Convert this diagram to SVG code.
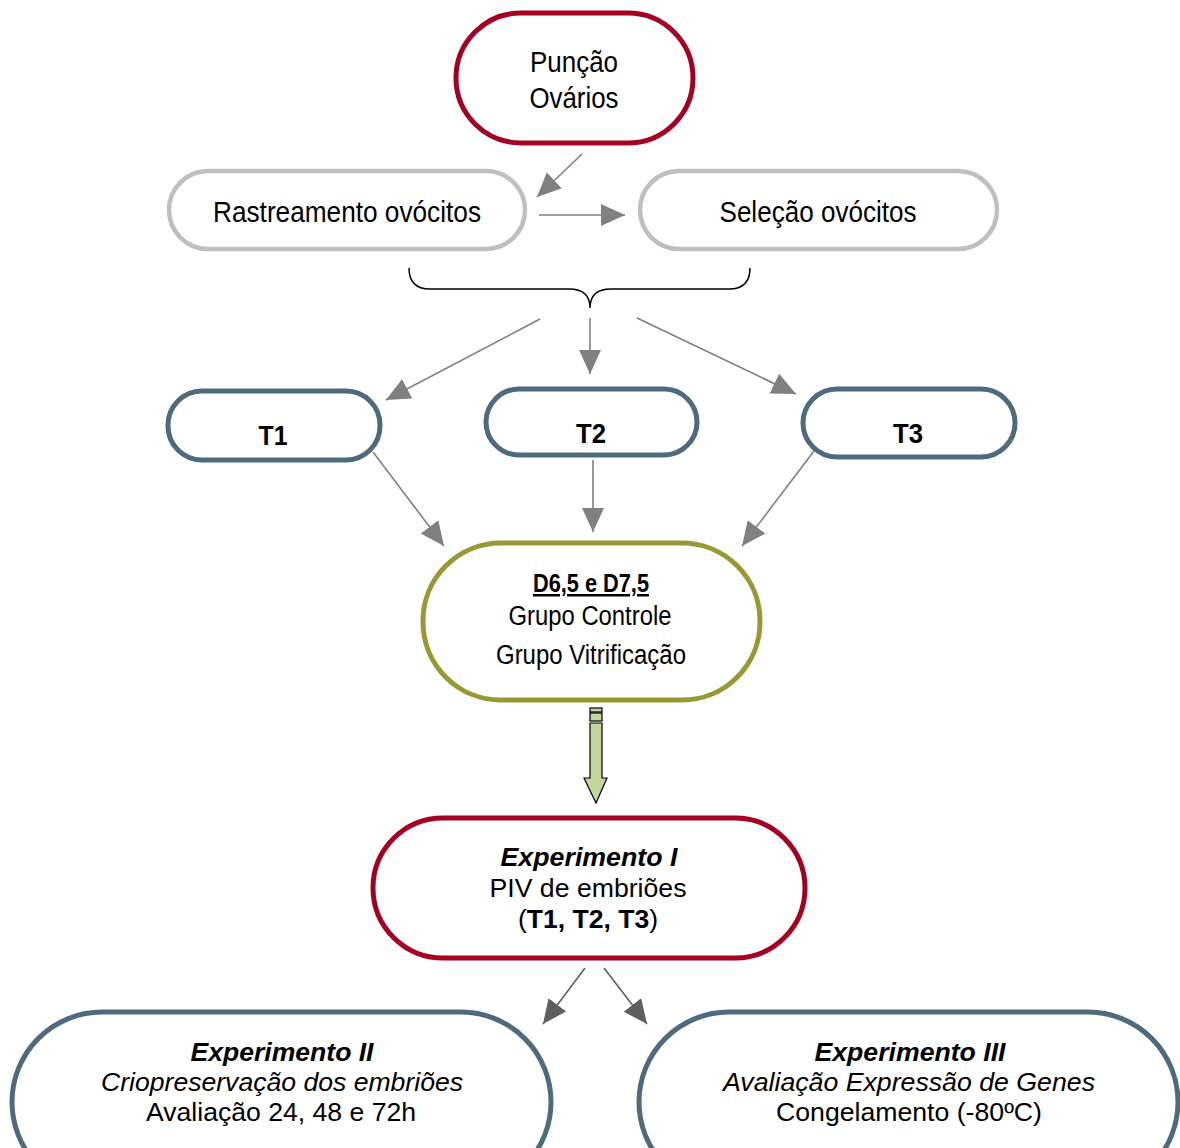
<svg xmlns="http://www.w3.org/2000/svg" width="1180" height="1148" viewBox="0 0 1180 1148">
<style>
.box{fill:#fff;stroke-width:5}
.red{stroke:#A50021}
.grey{stroke:#BFBFBF;stroke-width:4.5}
.blue{stroke:#4E6B7E}
.olive{stroke:#999933}
.t{font-family:"Liberation Sans",Arial,sans-serif;fill:#000;text-anchor:middle}
.c{font-size:29px}
.b{font-weight:bold}
.i{font-style:italic}
.m{font-size:25px}
.ln{stroke:#808080;stroke-width:1.6;fill:none}
.ln2{stroke:#5F5F5F;stroke-width:1.6;fill:none}
</style>
<defs>
<marker id="ah" markerUnits="userSpaceOnUse" markerWidth="26" markerHeight="24" refX="24" refY="11" orient="auto"><path d="M0,0 L24,11 L0,22 z" fill="#808080"/></marker>
<marker id="ah2" markerUnits="userSpaceOnUse" markerWidth="26" markerHeight="24" refX="24" refY="11" orient="auto"><path d="M0,0 L24,11 L0,22 z" fill="#5F5F5F"/></marker>
</defs>
<rect width="1180" height="1148" fill="#fff"/>
<g id="connectors">
<line class="ln" x1="582" y1="154" x2="537" y2="197" marker-end="url(#ah)"/>
<line class="ln" x1="539" y1="215" x2="625" y2="215" marker-end="url(#ah)"/>
<path d="M409,268 Q409,289 430,289 L569,289 Q590,289 590,308 Q590,289 611,289 L729,289 Q750,289 750,268" fill="none" stroke="#000" stroke-width="1.5"/>
<line class="ln" x1="540" y1="319" x2="386" y2="400" marker-end="url(#ah)"/>
<line class="ln" x1="590" y1="318" x2="590" y2="374" marker-end="url(#ah)"/>
<line class="ln" x1="637" y1="318" x2="796" y2="394" marker-end="url(#ah)"/>
<line class="ln" x1="373" y1="452" x2="444" y2="546" marker-end="url(#ah)"/>
<line class="ln" x1="593" y1="460" x2="593" y2="532" marker-end="url(#ah)"/>
<line class="ln" x1="814" y1="451" x2="742" y2="546" marker-end="url(#ah)"/>
<g fill="#C3D69B" stroke="#000" stroke-width="1.2">
<rect x="590" y="708" width="12" height="4"/>
<rect x="590" y="713" width="12" height="8"/>
<polygon points="590,723 602,723 602,778 607,778 596,803 584,778 590,778"/>
</g>
<line class="ln2" x1="585" y1="968" x2="543" y2="1024" marker-end="url(#ah2)"/>
<line class="ln2" x1="604" y1="968" x2="647" y2="1024" marker-end="url(#ah2)"/>
</g>
<g id="puncao">
<rect class="box red" x="456" y="13" width="237" height="130" rx="65"/>
<text class="t c" x="574" y="72" textLength="88" lengthAdjust="spacingAndGlyphs">Punção</text>
<text class="t c" x="574" y="108" textLength="89" lengthAdjust="spacingAndGlyphs">Ovários</text>
</g>
<g id="rastreamento">
<rect class="box grey" x="169" y="171" width="356" height="78" rx="39"/>
<text class="t c" x="347" y="222" textLength="268" lengthAdjust="spacingAndGlyphs">Rastreamento ovócitos</text>
</g>
<g id="selecao">
<rect class="box grey" x="640" y="171" width="357" height="78" rx="39"/>
<text class="t c" x="818" y="222" textLength="197" lengthAdjust="spacingAndGlyphs">Seleção ovócitos</text>
</g>
<g id="t1">
<rect class="box blue" x="168" y="391" width="212" height="69" rx="34"/>
<text class="t b" font-size="28" x="273" y="445" textLength="29" lengthAdjust="spacingAndGlyphs">T1</text>
</g>
<g id="t2">
<rect class="box blue" x="486" y="389" width="211" height="66" rx="33"/>
<text class="t b" font-size="28" x="591" y="443" textLength="30" lengthAdjust="spacingAndGlyphs">T2</text>
</g>
<g id="t3">
<rect class="box blue" x="803" y="389" width="212" height="68" rx="34"/>
<text class="t b" font-size="28" x="908" y="443" textLength="30" lengthAdjust="spacingAndGlyphs">T3</text>
</g>
<g id="grupos">
<rect class="box olive" x="423" y="543" width="337" height="157" rx="78"/>
<text class="t b" font-size="25" x="591" y="592" textLength="116" lengthAdjust="spacingAndGlyphs" text-decoration="underline">D6,5 e D7,5</text>
<text class="t" font-size="27" x="590" y="625" textLength="163" lengthAdjust="spacingAndGlyphs">Grupo Controle</text>
<text class="t" font-size="27" x="591" y="664" textLength="190" lengthAdjust="spacingAndGlyphs">Grupo Vitrificação</text>
</g>
<g id="exp1">
<rect class="box red" x="373" y="818" width="432" height="140" rx="70"/>
<text class="t m b i" x="589" y="866" textLength="177" lengthAdjust="spacingAndGlyphs">Experimento I</text>
<text class="t m" x="588" y="897" textLength="197" lengthAdjust="spacingAndGlyphs">PIV de embriões</text>
<text class="t m" x="588" y="928" textLength="140" lengthAdjust="spacingAndGlyphs">(<tspan class="b">T1, T2, T3</tspan>)</text>
</g>
<g id="exp2">
<rect class="box blue" x="12" y="1012" width="539" height="180" rx="90"/>
<text class="t m b i" x="282" y="1061" textLength="183" lengthAdjust="spacingAndGlyphs">Experimento II</text>
<text class="t m i" x="282" y="1091" textLength="362" lengthAdjust="spacingAndGlyphs">Criopreservação dos embriões</text>
<text class="t m" x="281" y="1121" textLength="270" lengthAdjust="spacingAndGlyphs">Avaliação 24, 48 e 72h</text>
</g>
<g id="exp3">
<rect class="box blue" x="639" y="1012" width="539" height="180" rx="90"/>
<text class="t m b i" x="910" y="1061" textLength="191" lengthAdjust="spacingAndGlyphs">Experimento III</text>
<text class="t m i" x="909" y="1091" textLength="372" lengthAdjust="spacingAndGlyphs">Avaliação Expressão de Genes</text>
<text class="t m" x="909" y="1121" textLength="266" lengthAdjust="spacingAndGlyphs">Congelamento (-80ºC)</text>
</g>
</svg>
